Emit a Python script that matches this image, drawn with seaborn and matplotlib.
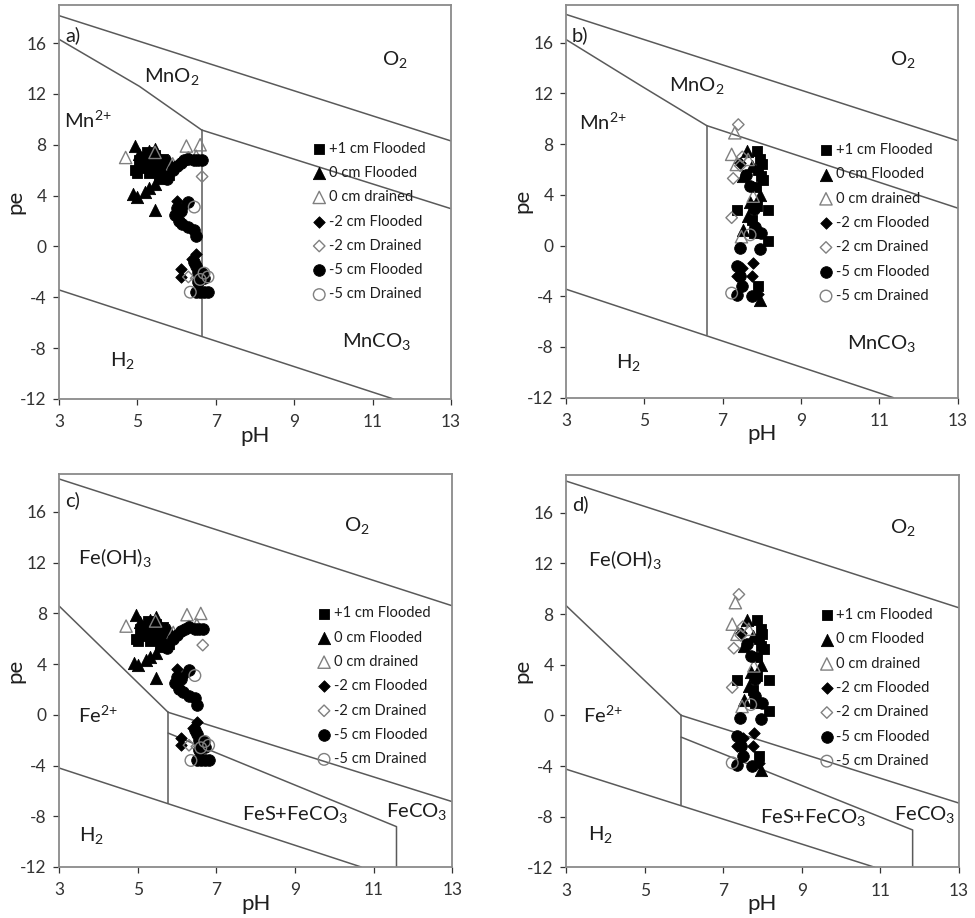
import numpy as np
import pandas as pd
import matplotlib
matplotlib.use('Agg')
import matplotlib.pyplot as plt
import seaborn as sns

# ---- measured data (pH, pe) ----
series_labels = ['+1 cm Flooded', '0 cm Flooded', '0 cm drained', '-2 cm Flooded',
                 '-2 cm Drained', '-5 cm Flooded', '-5 cm Drained']

# site 1 (panels a and c)
s1_p1_ph = [4.95, 5.0, 5.1, 5.15, 5.2, 5.25, 5.3, 5.4, 5.5, 5.55, 5.6, 5.7, 5.8, 5.35, 5.05, 5.45, 5.65]
s1_p1_pe = [6.0, 5.8, 6.2, 7.0, 6.5, 7.4, 5.8, 6.8, 6.0, 5.5, 6.4, 5.9, 5.6, 6.3, 6.8, 7.2, 6.9]
s1_0f_ph = [4.95, 5.45, 4.9, 5.0, 5.2, 5.3, 5.45, 5.45, 5.6, 5.8, 5.05, 5.3, 5.6]
s1_0f_pe = [7.9, 7.7, 4.1, 3.9, 4.3, 4.6, 4.9, 2.9, 5.4, 6.7, 7.3, 7.5, 6.2]
s1_0d_ph = [4.7, 6.25, 6.6, 5.45, 5.9, 6.5]
s1_0d_pe = [7.0, 7.9, 8.0, 7.4, 6.5, 7.1]
s1_2f_ph = [6.0, 6.1, 6.1, 6.5, 6.5, 6.2, 6.4]
s1_2f_pe = [3.6, -1.8, -2.4, -0.6, 6.8, 3.2, -1.0]
s1_2d_ph = [6.65, 6.3, 6.5, 6.3]
s1_2d_pe = [5.5, -2.4, -2.5, 7.0]
s1_5f_ph = [5.9, 6.0, 6.1, 6.2, 6.3, 6.45, 6.55, 6.65, 6.0, 5.95, 6.05, 6.15, 6.3,
            6.45, 6.5, 6.3, 6.1, 6.45, 6.5, 6.55, 6.65, 6.7, 6.5, 6.6, 6.7, 6.8, 6.55, 5.75]
s1_5f_pe = [6.0, 6.3, 6.6, 6.8, 6.9, 6.8, 6.8, 6.8, 3.0, 2.5, 2.0, 1.8, 1.5,
            1.3, 0.8, 3.5, 2.8, -1.2, -1.5, -2.0, -2.1, -2.5, -3.6, -3.6, -3.6, -3.6, -2.8, 5.3]
s1_5d_ph = [6.35, 6.45, 6.8, 6.6, 6.7]
s1_5d_pe = [-3.6, 3.1, -2.4, -2.6, -2.1]

# site 2 (panels b and d)
s2_p1_ph = [7.87, 7.95, 7.97, 8.04, 7.36, 8.17, 7.87, 8.17, 7.91, 7.8, 7.75, 7.9, 8.0, 7.85]
s2_p1_pe = [7.5, 6.8, 5.5, 5.2, 2.8, 2.8, 3.1, 0.35, -3.2, 1.0, 2.0, 6.0, 6.4, 4.6]
s2_0f_ph = [7.61, 7.53, 7.95, 7.53, 7.95, 7.65, 7.75, 7.7]
s2_0f_pe = [7.5, 5.5, 4.0, 1.2, -4.3, 2.3, 6.3, 3.4]
s2_0d_ph = [7.31, 7.23, 7.65, 7.48, 7.78, 7.35]
s2_0d_pe = [8.9, 7.2, 6.8, 0.7, 3.9, 6.4]
s2_2f_ph = [7.78, 7.36, 7.75, 7.9, 7.5, 7.45]
s2_2f_pe = [-1.4, -2.4, -2.4, -3.8, -1.8, 6.5]
s2_2d_ph = [7.40, 7.23, 7.27, 7.45, 7.5]
s2_2d_pe = [9.55, 2.2, 5.3, 6.3, 7.0]
s2_5f_ph = [7.44, 7.95, 7.36, 7.5, 7.36, 7.74, 7.82, 7.99, 7.8, 7.7, 7.45, 7.6]
s2_5f_pe = [-0.2, -0.3, -1.6, -3.2, -3.9, -4.0, 1.5, 1.0, 2.9, 4.7, -2.4, 5.6]
s2_5d_ph = [7.23, 7.7]
s2_5d_pe = [-3.75, 0.85]

# ---- stability field boundaries (pH, pe) ----
a_o2_ph, a_o2_pe = [3, 13], [18.16, 8.3]
a_mno2_ph, a_mno2_pe = [3, 5.05, 6.64], [16.3, 12.6, 9.16]
a_co3_ph, a_co3_pe = [6.64, 13], [9.16, 2.97]
a_vert_ph, a_vert_pe = [6.64, 6.64], [9.16, -7.03]
a_h2_ph, a_h2_pe = [3, 11.53], [-3.42, -12]

b_o2_ph, b_o2_pe = [3, 13], [18.24, 8.28]
b_mno2_ph, b_mno2_pe = [3, 4.93, 6.59], [16.26, 12.58, 9.47]
b_co3_ph, b_co3_pe = [6.59, 13], [9.47, 2.96]
b_vert_ph, b_vert_pe = [6.59, 6.59], [9.47, -7.05]
b_h2_ph, b_h2_pe = [3, 11.36], [-3.44, -12]

c_o2_ph, c_o2_pe = [3, 13], [18.6, 8.6]
c_fe_ph, c_fe_pe = [3, 5.77], [8.57, 0.2]
c_co3_ph, c_co3_pe = [5.77, 13], [0.2, -6.85]
c_vert_ph, c_vert_pe = [5.77, 5.77], [0.2, -6.97]
c_fes_ph, c_fes_pe = [5.77, 11.58, 11.58], [-1.44, -8.82, -12]
c_h2_ph, c_h2_pe = [3, 10.68], [-4.2, -12]

d_o2_ph, d_o2_pe = [3, 13], [18.5, 8.49]
d_fe_ph, d_fe_pe = [3, 5.93], [8.67, 0.0]
d_co3_ph, d_co3_pe = [5.93, 13], [0.0, -6.93]
d_vert_ph, d_vert_pe = [5.93, 5.93], [0.0, -7.07]
d_fes_ph, d_fes_pe = [5.93, 11.82, 11.82], [-1.72, -9.05, -12]
d_h2_ph, d_h2_pe = [3, 10.86], [-4.25, -12]

# ---- region labels ----
MN2 = r'Mn$^{2\!+}$'
FE2 = r'Fe$^{2\!+}$'
a_labels = [('a)', 3.36, 16.6), ('O$_2$', 11.57, 14.7), ('MnO$_2$', 5.87, 13.4),
            (MN2, 3.74, 9.9), ('MnCO$_3$', 11.1, -7.5), ('H$_2$', 4.63, -9.0)]
b_labels = [('b)', 3.36, 16.6), ('O$_2$', 11.61, 14.7), ('MnO$_2$', 6.34, 12.6),
            (MN2, 3.95, 9.7), ('MnCO$_3$', 11.06, -7.7), ('H$_2$', 4.59, -9.2)]
c_labels = [('c)', 3.33, 16.9), ('O$_2$', 10.57, 14.9), ('Fe(OH)$_3$', 4.42, 12.4),
            (FE2, 3.99, 0.0), ('FeS+FeCO$_3$', 9.0, -7.9), ('FeCO$_3$', 12.09, -7.6),
            ('H$_2$', 3.82, -9.5)]
d_labels = [('d)', 3.36, 16.7), ('O$_2$', 11.58, 14.8), ('Fe(OH)$_3$', 4.5, 12.3),
            (FE2, 3.95, 0.05), ('FeS+FeCO$_3$', 9.29, -8.1), ('FeCO$_3$', 12.13, -7.86),
            ('H$_2$', 3.87, -9.44)]


def make_df(ph_lists, pe_lists):
    frames = []
    for lab, ph, pe in zip(series_labels, ph_lists, pe_lists):
        frames.append(pd.DataFrame({'pH': ph, 'pe': pe, 'series': lab}))
    return pd.concat(frames, ignore_index=True)


site1 = make_df([s1_p1_ph, s1_0f_ph, s1_0d_ph, s1_2f_ph, s1_2d_ph, s1_5f_ph, s1_5d_ph],
                [s1_p1_pe, s1_0f_pe, s1_0d_pe, s1_2f_pe, s1_2d_pe, s1_5f_pe, s1_5d_pe])
site2 = make_df([s2_p1_ph, s2_0f_ph, s2_0d_ph, s2_2f_ph, s2_2d_ph, s2_5f_ph, s2_5d_ph],
                [s2_p1_pe, s2_0f_pe, s2_0d_pe, s2_2f_pe, s2_2d_pe, s2_5f_pe, s2_5d_pe])

# marker, filled?, size
styles = {
    '+1 cm Flooded': ('s', True, 62),
    '0 cm Flooded': ('^', True, 78),
    '0 cm drained': ('^', False, 78),
    '-2 cm Flooded': ('D', True, 34),
    '-2 cm Drained': ('D', False, 34),
    '-5 cm Flooded': ('o', True, 70),
    '-5 cm Drained': ('o', False, 70),
}

sns.set_theme(style='white')
plt.rcParams['font.family'] = ['Lato', 'DejaVu Sans']
plt.rcParams['mathtext.fontset'] = 'custom'
plt.rcParams['mathtext.rm'] = 'Lato'
plt.rcParams['mathtext.it'] = 'Lato'
plt.rcParams['axes.unicode_minus'] = False

LINE_C = '#5a5a5a'
OPEN_C = '#808080'
TEXT_C = '#1e1e1e'

fig = plt.figure(figsize=(9.75, 9.18), dpi=100)
positions = [
    [0.0605, 0.5654, 0.4021, 0.4292],
    [0.5805, 0.5668, 0.4017, 0.4280],
    [0.0608, 0.0556, 0.4031, 0.4281],
    [0.5805, 0.0552, 0.4031, 0.4277],
]

panel_lines = [
    [(a_o2_ph, a_o2_pe), (a_mno2_ph, a_mno2_pe), (a_co3_ph, a_co3_pe), (a_vert_ph, a_vert_pe), (a_h2_ph, a_h2_pe)],
    [(b_o2_ph, b_o2_pe), (b_mno2_ph, b_mno2_pe), (b_co3_ph, b_co3_pe), (b_vert_ph, b_vert_pe), (b_h2_ph, b_h2_pe)],
    [(c_o2_ph, c_o2_pe), (c_fe_ph, c_fe_pe), (c_co3_ph, c_co3_pe), (c_vert_ph, c_vert_pe), (c_fes_ph, c_fes_pe), (c_h2_ph, c_h2_pe)],
    [(d_o2_ph, d_o2_pe), (d_fe_ph, d_fe_pe), (d_co3_ph, d_co3_pe), (d_vert_ph, d_vert_pe), (d_fes_ph, d_fes_pe), (d_h2_ph, d_h2_pe)],
]
panel_labels = [a_labels, b_labels, c_labels, d_labels]
panel_data = [site1, site2, site1, site2]
legend_anchor = [(0.63, 0.668), (0.63, 0.663), (0.64, 0.678), (0.63, 0.675)]

for i in range(4):
    ax = fig.add_axes(positions[i])
    for ph, pe in panel_lines[i]:
        ax.plot(ph, pe, color=LINE_C, lw=1.1, zorder=1)

    df = panel_data[i]
    for lab in series_labels:
        mk, filled, sz = styles[lab]
        sub = df[df['series'] == lab]
        if filled:
            sns.scatterplot(data=sub, x='pH', y='pe', ax=ax, marker=mk, s=sz,
                            color='black', edgecolor='black', linewidth=0.6,
                            label=lab, zorder=3)
        else:
            sns.scatterplot(data=sub, x='pH', y='pe', ax=ax, marker=mk, s=sz,
                            facecolor='none', edgecolor=OPEN_C, linewidth=1.0,
                            label=lab, zorder=3)

    for txt, x, y in panel_labels[i]:
        ax.text(x, y, txt, fontsize=14.5, ha='center', va='center',
                color=TEXT_C, zorder=2)

    ax.set_xlim(3, 13)
    ax.set_ylim(-12, 19)
    ax.set_xticks([3, 5, 7, 9, 11, 13])
    ax.set_yticks([-12, -8, -4, 0, 4, 8, 12, 16])
    ax.set_xlabel('pH', fontsize=16, color=TEXT_C)
    ax.set_ylabel('pe', fontsize=16, color=TEXT_C)
    ax.xaxis.set_label_coords(0.5, -0.068)
    ax.yaxis.set_label_coords(-0.085, 0.5)
    ax.tick_params(axis='both', labelsize=12.5, colors='#333333', direction='out',
                   length=4, width=0.9, bottom=True, left=True)
    ax.tick_params(axis='x', pad=7)
    ax.tick_params(axis='y', pad=5)
    for sp in ax.spines.values():
        sp.set_color('#8a8a8a')
        sp.set_linewidth(1.3)

    leg = ax.legend(loc='upper left', bbox_to_anchor=legend_anchor[i], frameon=False,
                    fontsize=10.6, handletextpad=0.15, labelspacing=0.7,
                    handlelength=1.0, borderaxespad=0)
    for t in leg.get_texts():
        t.set_color(TEXT_C)

fig.savefig('out.png', dpi=100)
